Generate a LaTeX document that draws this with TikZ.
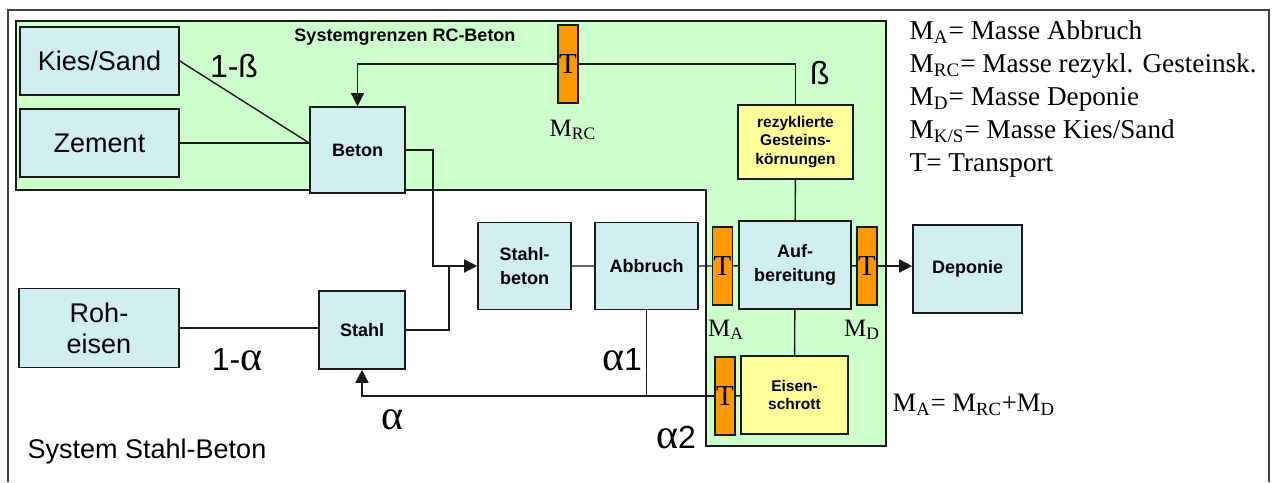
\documentclass[tikz,border=0pt]{standalone}
\usepackage{fontspec}
\setmainfont{Liberation Serif}
\setsansfont{Liberation Sans}
\usepackage{tikz}
\usetikzlibrary{arrows.meta}
\definecolor{ink}{HTML}{1A1A1A}
\definecolor{frame}{HTML}{404040}
\definecolor{lgreen}{HTML}{CCFFCC}
\definecolor{lcyan}{HTML}{D0EEF0}
\definecolor{lyellow}{HTML}{FFFF99}
\definecolor{corange}{HTML}{FF9900}
\newcommand{\Msub}[1]{M\textsubscript{#1}}
\newcommand{\alf}{{\rmfamily\fontsize{21}{21}\selectfont α}}
\tikzset{
  >={Triangle[length=6.5pt,width=6.5pt]},
  every picture/.style={line width=0.7pt,draw=ink},
  bx/.style={draw=ink,line width=0.8pt,inner sep=0pt,align=center,font=\sffamily\bfseries\fontsize{9}{12}\selectfont},
  bxc/.style={bx,fill=lcyan},
  bxy/.style={bx,fill=lyellow,font=\sffamily\bfseries\fontsize{7.75}{9.25}\selectfont},
  bxl/.style={bxc,font=\sffamily\fontsize{13.5}{15.5}\selectfont},
  tr/.style={bx,fill=corange,minimum width=10pt,minimum height=39pt,font=\rmfamily\fontsize{14.5}{14.5}\selectfont},
  ms/.style={inner sep=0pt,font=\rmfamily\fontsize{12.5}{14}\selectfont},
  fr/.style={inner sep=0pt,font=\sffamily\fontsize{16}{17}\selectfont},
  arr/.style={->,draw=ink},
}
\begin{document}
\begin{tikzpicture}[x=0.5pt,y=-0.5pt]
  \useasboundingbox (0,0) rectangle (1273,482);
  \fill[white] (0,0) rectangle (1273,482);
  \draw[frame,line width=1pt] (8,482) -- (8,10) -- (1269,10) -- (1269,482);
  \filldraw[fill=lgreen,draw=ink,line width=0.8pt] (16,21) -- (886,21) -- (886,446) -- (706,446) -- (706,190) -- (16,190) -- cycle;
  \node[bxl,minimum width=79.5pt,minimum height=34pt] (kies) at (99.5,61) {Kies/Sand};
  \node[bxl,minimum width=79.5pt,minimum height=34pt] (zement) at (99.5,143) {Zement};
  \node[bxc,minimum width=47.5pt,minimum height=43pt] (beton) at (357.5,150) {Beton};
  \node[bxl,minimum width=80pt,minimum height=39.5pt] (roh) at (99,328) {Roh-\\eisen};
  \node[bxc,minimum width=43pt,minimum height=39pt] (stahl) at (362,330) {Stahl};
  \node[bxc,minimum width=46.5pt,minimum height=43.5pt] (stb) at (524.5,266) {Stahl-\\beton};
  \node[bxc,minimum width=51.5pt,minimum height=43.5pt] (abbr) at (646.5,266) {Abbruch};
  \node[tr] (tA) at (722.5,266) {T};
  \node[bxc,minimum width=56pt,minimum height=44pt] (aufb) at (795,265) {Auf-\\bereitung};
  \node[tr] (tD) at (867,266) {T};
  \node[bxc,minimum width=54.5pt,minimum height=44pt] (dep) at (967.5,269) {Deponie};
  \node[bxy,minimum width=53.5pt,minimum height=39pt] (eisen) at (794.5,395) {Eisen-\\schrott};
  \node[tr] (tE) at (725,396) {T};
  \node[tr] (tRC) at (568,64) {T};
  \node[bxy,minimum width=57.5pt,minimum height=37pt] (rzk) at (795.5,142) {rezyklierte\\Gesteins-\\körnungen};
  \node[inner sep=0pt,font=\sffamily\bfseries\fontsize{9}{11}\selectfont] (sg) at (405,37) {Systemgrenzen RC-Beton};
  \node[fr] (b1) at (234,66) {1-ß};
  \node[fr] (b2) at (820,73) {ß};
  \node[ms] (mrc) at (573,130) {\Msub{RC}};
  \node[ms] (ma) at (726,330) {\Msub{A}};
  \node[ms] (md) at (862,330) {\Msub{D}};
  \node[fr] (a0) at (237,360) {1-\alf};
  \node[fr] (a) at (392,420) {\alf};
  \node[fr] (a1) at (622,360) {\alf1};
  \node[fr] (a2) at (676,438) {\alf2};
  \node[anchor=west,inner sep=0pt,font=\sffamily\fontsize{13.5}{15}\selectfont] (sys) at (27,452) {System Stahl-Beton};
  \node[anchor=north west,align=left,inner sep=0pt,font=\rmfamily\fontsize{13.6}{16.5}\selectfont] (leg) at (909,20)
    {\Msub{A}= Masse Abbruch\\\Msub{RC}= Masse rezykl. Gesteinsk.\\\Msub{D}= Masse Deponie\\\Msub{K/S}= Masse Kies/Sand\\T= Transport};
  \node[anchor=west,inner sep=0pt,font=\rmfamily\fontsize{13.3}{16}\selectfont] (eq) at (892,405) {\Msub{A}= \Msub{RC}+\Msub{D}};
  \coordinate (j1) at (449,266);
  \draw (kies.east) -- (zement.east -| beton.west);
  \draw (zement) -- (zement.east -| beton.west);
  \draw[arr] (beton.east) -- ++(27,0) |- (stb.west);
  \draw (roh.east) -- (roh.east -| stahl.west);
  \draw (stahl.east) -| (j1);
  \draw (stb) -- (abbr) -- (tA) -- (aufb) -- (tD);
  \draw[arr] (tD) -- (tD -| dep.west);
  \draw (aufb) -- (rzk);
  \draw (rzk.north) |- (tRC);
  \draw[arr] (tRC) -| (beton.north);
  \draw (aufb) -- (eisen);
  \draw (eisen) -- (tE);
  \draw[arr] (tE) -| (stahl.south);
  \draw (abbr.south) -- (abbr.south |- tE.west);
\end{tikzpicture}
\end{document}
